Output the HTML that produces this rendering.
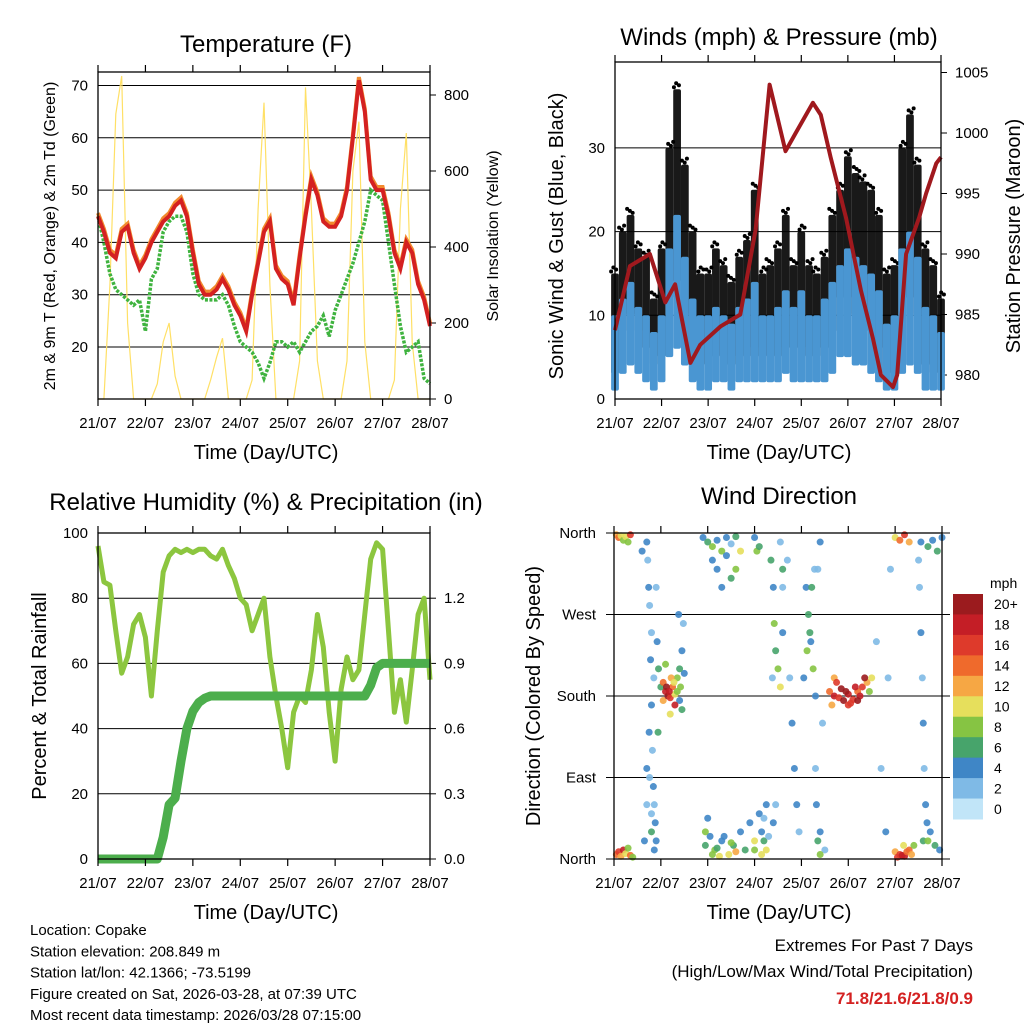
<!DOCTYPE html>
<html><head><meta charset="utf-8"><style>
html,body{margin:0;padding:0;background:#fff;}
svg{display:block;font-family:"Liberation Sans",Arial,sans-serif;}
</style></head><body>
<svg id="c" width="1024" height="1024" viewBox="0 0 1024 1024" xmlns="http://www.w3.org/2000/svg"></svg>
<script>
// ---------- DATA ----------
const dayLabels = ["21/07","22/07","23/07","24/07","25/07","26/07","27/07","28/07"];
const tempT = [45,42,38,37,42,43,38,35, 37,40,42,44,45,47,48,45, 38,32,30,30,31,33,31,28, 26,23,30,36,42,44,35,33, 32,28,37,45,52,49,44,43, 43,45,50,60,71,65,52,50, 50,45,38,35,40,38,32,29, 24];
const tempTd = [45,40,34,31,30,29,28,29, 23,33,35,42,44,45,45,42, 34,30,29,29,29,30,28,24, 21,20,19,17,14,17,21,21, 20,21,19,21,23,24,26,22, 27,30,33,36,40,44,50,49, 48,40,32,24,19,20,21,14, 13];
const solar = [0,0,300,750,850,200,0,0, 0,0,40,150,200,60,0,0, 0,0,0,50,110,160,0,0, 0,0,50,500,780,300,0,0, 0,0,100,820,500,100,0,0, 0,0,100,600,730,150,0,0, 0,0,50,500,700,150,0,0, 0];
const tempTicks = [20,30,40,50,60,70];
const solarTicks = [0,200,400,600,800];
const gustHi = [15,20,22,18,17,12, 18,30,37,28,20,15, 15,18,16,14,17,19, 25,15,16,18,22,16, 20,16,15,17,22,25, 29,27,26,25,22,15, 16,30,34,28,18,16, 12];
const gustLo = [3,8,10,8,6,4, 5,12,14,10,5,4, 4,5,5,4,5,5, 6,5,5,5,6,6, 6,5,5,6,8,12, 12,10,10,8,6,3, 3,10,12,10,4,3, 3];
const windHi = [10,12,14,11,10,8, 10,18,22,17,12,10, 10,11,10,9,11,12, 14,10,10,11,13,11, 13,10,10,12,14,16, 18,17,16,15,13,9, 10,18,20,17,11,10, 8];
const windLo = [1,3,4,3,2,1, 2,5,6,4,2,1, 1,2,2,1,2,2, 2,2,2,2,3,2, 2,2,2,2,3,5, 5,4,4,3,2,1, 1,3,4,3,1,1, 1];
const presDay = [0,0.32,0.75,1.08,1.29,1.62,1.83,2.26,2.69,3.02,3.32,3.66,3.88,4.25,4.42,4.63,4.96,5.28,5.54,5.71,5.97,6.06,6.25,6.53,6.68,6.9,7];
const presVal = [983.7,989,990,986,987.5,981,982.5,984,985,992,1004,998.5,1000,1002.5,1001.5,998,993,987,983,980,979,980,990,993,995,997.5,998];
const windTicks = [0,10,20,30];
const presTicks = [980,985,990,995,1000,1005];
const rh = [96,85,84,70,57,62,72,75, 68,50,70,88,93,95,94,95, 94,95,95,93,92,95,90,86, 80,78,70,75,80,62,50,40, 28,45,50,48,58,75,65,45, 30,52,62,55,58,75,92,97, 95,70,45,55,42,58,75,80, 55];
const precip = [0,0,0,0,0,0,0,0, 0,0,0,0.1,0.25,0.28,0.45,0.6, 0.68,0.72,0.74,0.75,0.75,0.75,0.75,0.75, 0.75,0.75,0.75,0.75,0.75,0.75,0.75,0.75, 0.75,0.75,0.75,0.75,0.75,0.75,0.75,0.75, 0.75,0.75,0.75,0.75,0.75,0.75,0.8,0.88, 0.9,0.9,0.9,0.9,0.9,0.9,0.9,0.9, 0.9];
const rhTicks = [0,20,40,60,80,100];
const prTicks = ["0.0","0.3","0.6","0.9","1.2"];
const dirDay = [0.05,0.1,0.15,0.2,0.25,0.3,0.35,0.05,0.1,0.15,0.2,0.25,0.3,0.35,0.4, 0.6,0.65,0.7,0.7,0.75,0.8,0.8,0.85,0.9, 1.0,1.05,1.1,1.15,1.2,1.25,1.3,1.35,1.4,1.45,1.1,1.2,1.3,1.5, 1.9,2.0,2.1,2.2,2.3,2.4,2.5,2.6,1.95,2.05,2.15,2.3,2.45,2.55, 3.0,3.05,3.1,3.15,3.2,3.25,3.3,3.0,3.4,3.45, 3.6,3.6,3.7,3.75,3.8,3.85,3.9,3.95,3.55, 4.1,4.15,4.2,4.25,4.3,4.35,4.4,4.45,4.4,4.5, 4.6,4.7,4.8,4.9,5.0,5.1,5.2,5.3,5.4,5.5,4.65,4.85,5.05,5.25,5.45, 5.6,5.7,5.8,5.85,5.9, 6.0,6.1,6.2,6.3,6.0,6.1,6.2,6.3,6.4, 6.55,6.7,6.8,6.9,7.0,6.6,6.75,6.85,6.95,
 0.72,0.74,0.76,0.78,0.8,0.82,0.84,0.86,0.88,0.9,0.76,0.8,0.86,0.7,0.92,0.95,0.94,
 1.05,1.12,1.18,1.22,1.28,1.35,1.4,1.45,1.48,1.38,1.42,
 1.95,2.0,2.1,2.2,2.25,2.35,2.5,2.6,2.7,2.8,2.9,3.0,3.1,3.2,3.15,3.25,
 2.1,2.2,2.3,2.4,2.5,2.6,2.7,
 3.35,3.4,3.42,3.45,3.5,3.55,3.6,3.38,
 4.05,4.12,4.18,4.22,4.28,4.3,4.32,4.35,4.4,
 4.7,4.75,4.95,5.15,5.35,5.2,5.0,
 6.05,6.15,6.25,6.35,6.18,
 6.5,6.52,6.55,6.58,6.6,6.62,6.65,6.68,6.7];
const dirDeg = [358,355,357,352,356,350,358,5,8,3,10,6,12,4,2, 340,20,60,100,140,250,30,200,300, 190,175,185,180,178,190,182,200,175,165,215,160,170,205, 355,350,345,352,340,355,348,356,15,25,10,20,5,15, 355,340,345,30,20,10,25,10,40,60, 300,250,330,200,150,100,60,30,350, 300,270,240,210,180,320,350,150,30,10, 185,180,178,175,182,176,185,190,195,200,170,188,172,180,185, 240,100,30,200,320, 355,352,358,350,8,5,3,10,15, 350,345,352,340,355,20,30,15,10,
 330,300,280,220,170,120,80,60,40,20,90,50,10,350,240,210,140,
 195,190,185,200,195,185,210,230,260,270,190,
 30,45,5,12,3,25,18,8,30,10,40,20,50,45,5,60,
 330,320,300,335,310,320,340,
 330,300,260,230,210,190,320,200,
 200,230,250,300,320,100,60,20,5,
 200,195,185,190,200,175,170,
 2,4,8,5,15,
 330,300,250,200,150,100,60,40,20];
const dirSpd = [12,14,10,9,11,8,16,14,16,12,18,10,8,15,9, 4,5,3,4,5,3,6,2,3, 6,12,18,20,16,14,10,8,4,6,8,10,18,4, 4,6,8,5,9,4,3,7,6,4,8,5,10,6, 4,8,6,4,6,10,3,8,4,3, 3,4,2,3,4,5,4,3,2, 4,6,5,8,4,3,4,3,5,3, 14,18,16,20,18,16,14,17,12,10,12,20,16,18,8, 2,3,4,3,2, 10,14,16,12,12,16,18,14,8, 5,6,4,6,5,6,4,7,5,
 3,4,2,4,5,3,4,2,5,4,2,3,5,4,4,6,7,
 14,20,19,12,10,8,6,4,3,4,9,
 8,4,8,6,10,4,8,12,4,6,4,10,4,3,10,4,
 4,5,4,4,6,8,10,
 6,4,8,7,8,10,6,3,
 4,8,7,6,3,3,4,6,8,
 12,16,20,18,20,20,16,
 16,18,14,12,10,
 3,2,4,3,4,2,4,5,8];
const cbLabels = ["20+","18","16","14","12","10","8","6","4","2","0"];
const cbColors = ["#9b1b1e","#c41e26","#de3a2b","#ef6a2c","#f6a744","#e6df5c","#86c443","#47a46b","#3f86c6","#7fbae6","#c1e5f8"];

// ---------- HELPERS ----------
const svg = document.getElementById('c');
const NS = "http://www.w3.org/2000/svg";
function mk(tag, attrs, parent){
  const e = document.createElementNS(NS, tag);
  for (const k in attrs) e.setAttribute(k, attrs[k]);
  (parent||svg).appendChild(e);
  return e;
}
function txt(s, x, y, size, anchor, parent, extra){
  const t = mk('text', Object.assign({x:x, y:y, 'font-size':size, 'text-anchor':anchor||'middle', fill:'#000'}, extra||{}), parent);
  t.textContent = s;
  return t;
}
function frame(L,T,R,B,g){
  const r = mk('rect',{x:L,y:T,width:R-L,height:B-T,fill:'none',stroke:'#000','stroke-width':1.3},g);
  
  
}
function xAxis(L,R,T,B,g){
  const sx = d => L + d*(R-L)/7;
  dayLabels.forEach((lab,i)=>{
    const x = sx(i);
    mk('line',{x1:x,y1:B,x2:x,y2:B+7,stroke:'#000','stroke-width':1.2},g);
    mk('line',{x1:x,y1:T,x2:x,y2:T-7,stroke:'#000','stroke-width':1.2},g);
    const t = txt(lab, x, B+29, 15, 'middle', g);
    
    
  });
  return sx;
}

// ============ PANEL 1: TEMPERATURE ============
(function(){
  const g = mk('g',{});
  
  
  const L=98,T=72,R=430,B=399;
  const yT = v => 347 - (v-20)*5.23;
  const yS = v => 399 - v*0.38;
  const sx = d => L + d*(R-L)/7;
  const tt = txt('Temperature (F)', 266, 52, 24, 'middle', g);
   
  tempTicks.forEach(v=>{
    mk('line',{x1:L,y1:yT(v),x2:R,y2:yT(v),stroke:'#000','stroke-width':1},g);
    const t = txt(String(v), L-10, yT(v)+5, 15, 'end', g);
     
  });
  solarTicks.forEach(v=>{
    mk('line',{x1:R,y1:yS(v),x2:R+6,y2:yS(v),stroke:'#000'},g);
    const t = txt(String(v), R+14, yS(v)+5, 15, 'start', g);
     
  });
  const pt = (arr,f) => arr.map((v,i)=> sx(i*7/(arr.length-1)).toFixed(1)+','+f(v).toFixed(1)).join(' ');
  const ps = mk('polyline',{points:pt(solar,yS),fill:'none',stroke:'#ffe066','stroke-width':1.2},g);
   
  const pd = mk('polyline',{points:pt(tempTd,yT),fill:'none',stroke:'#3fb33f','stroke-width':3.5,'stroke-dasharray':'3 1.5'},g);
   
  const po = mk('polyline',{points:pt(tempT,v=>yT(v+0.6)),fill:'none',stroke:'#f28a2e','stroke-width':4},g);
   
  const pr = mk('polyline',{points:pt(tempT,yT),fill:'none',stroke:'#d42121','stroke-width':4},g);
   
  frame(L,T,R,B,g);
  xAxis(L,R,T,B,g);
  const xl = txt('Time (Day/UTC)', 266, 459, 20, 'middle', g);
   
  const yl = txt('2m & 9m T (Red, Orange) & 2m Td (Green)', 0, 0, 16, 'middle', g, {transform:'translate(55,236) rotate(-90)'});
   
  const yr = txt('Solar Insolation (Yellow)', 0, 0, 16, 'middle', g, {transform:'translate(498,236) rotate(-90)'});
   
})();

// ============ PANEL 2: WINDS ============
(function(){
  const g = mk('g',{});
  
  
  const L=615,T=62,R=941,B=399;
  const yW = v => 399 - v*8.37;
  const yP = v => 375 - (v-980)*12.1;
  const sx = d => L + d*(R-L)/7;
  const tt = txt('Winds (mph) & Pressure (mb)', 779, 45, 24, 'middle', g);
   
  windTicks.forEach(v=>{
    mk('line',{x1:L,y1:yW(v),x2:R,y2:yW(v),stroke:'#000','stroke-width':1},g);
    const t = txt(String(v), L-10, yW(v)+5, 15, 'end', g);
     
  });
  presTicks.forEach(v=>{
    mk('line',{x1:R,y1:yP(v),x2:R+6,y2:yP(v),stroke:'#000'},g);
    const t = txt(String(v), R+14, yP(v)+5, 15, 'start', g);
     
  });
  const step = 7/(gustHi.length-1);
  const w = (R-L)/7*step;
  gustHi.forEach((v,i)=>{
    const x = sx(i*step);
    const r = mk('rect',{x:x-w/2,y:yW(v),width:w,height:yW(gustLo[i])-yW(v),fill:'#000',opacity:0.9,rx:2},g);
     
    for(let k=0;k<3;k++){
      const c = mk('circle',{cx:x-w/2+((k*5+i*3)%w),cy:yW(v)-2-k*2,r:2,fill:'#000'},g);
       
    }
  });
  windHi.forEach((v,i)=>{
    const x = sx(i*step);
    const r = mk('rect',{x:x-w/2,y:yW(v),width:w,height:yW(windLo[i])-yW(v),fill:'#4a96d2',rx:2},g);
     
  });
  const pp = mk('polyline',{points:presDay.map((d,i)=>sx(d).toFixed(1)+','+yP(presVal[i]).toFixed(1)).join(' '),fill:'none',stroke:'#a0191e','stroke-width':4,'stroke-linejoin':'round'},g);
   
  frame(L,T,R,B,g);
  xAxis(L,R,T,B,g);
  const xl = txt('Time (Day/UTC)', 779, 459, 20, 'middle', g);
   
  const yl = txt('Sonic Wind & Gust (Blue, Black)', 0, 0, 20, 'middle', g, {transform:'translate(563,236) rotate(-90)'});
   
  const yr = txt('Station Pressure (Maroon)', 0, 0, 20, 'middle', g, {transform:'translate(1020,236) rotate(-90)'});
   
})();

// ============ PANEL 3: RH & PRECIP ============
(function(){
  const g = mk('g',{});
  
  
  const L=98,T=533,R=430,B=859;
  const yR = v => 859 - v*3.26;
  const yPr = v => 859 - v*(326/1.5);
  const sx = d => L + d*(R-L)/7;
  const tt = txt('Relative Humidity (%) & Precipitation (in)', 266, 510, 24, 'middle', g);
   
  rhTicks.forEach(v=>{
    if(v>0 && v<100) mk('line',{x1:L,y1:yR(v),x2:R,y2:yR(v),stroke:'#000','stroke-width':1},g);
    const t = txt(String(v), L-10, yR(v)+5, 15, 'end', g);
     
  });
  prTicks.forEach(s=>{
    const v = parseFloat(s);
    mk('line',{x1:R,y1:yPr(v),x2:R+6,y2:yPr(v),stroke:'#000'},g);
    const t = txt(s, R+14, yPr(v)+5, 15, 'start', g);
     
  });
  const pt = (arr,f) => arr.map((v,i)=> sx(i*7/(arr.length-1)).toFixed(1)+','+f(v).toFixed(1)).join(' ');
  const pr = mk('polyline',{points:pt(rh,yR),fill:'none',stroke:'#8cc63f','stroke-width':5,'stroke-linejoin':'round'},g);
   
  const pp = mk('polyline',{points:pt(precip,yPr),fill:'none',stroke:'#4cae4c','stroke-width':9,'stroke-linejoin':'round'},g);
   
  frame(L,T,R,B,g);
  xAxis(L,R,T,B,g);
  const xl = txt('Time (Day/UTC)', 266, 919, 20, 'middle', g);
   
  const yl = txt('Percent & Total Rainfall', 0, 0, 20, 'middle', g, {transform:'translate(46,696) rotate(-90)'});
   
})();

// ============ PANEL 4: WIND DIRECTION ============
(function(){
  const g = mk('g',{});
  
  
  const L=614,T=533,R=942,B=859;
  const yD = v => 859 - v*(326/360);
  const sx = d => L + d*(R-L)/7;
  const tt = txt('Wind Direction', 779, 504, 24, 'middle', g);
   
  [["North",360],["West",270],["South",180],["East",90],["North",0]].forEach(([s,v])=>{
    mk('line',{x1:L-8,y1:yD(v),x2:R+8,y2:yD(v),stroke:'#000','stroke-width':1},g);
    const t = txt(s, L-18, yD(v)+5, 15, 'end', g);
     
  });
  dirDay.forEach((d,i)=>{
    const ci = Math.min(10, Math.floor(dirSpd[i]/2));
    const c = mk('circle',{cx:sx(d),cy:yD(dirDeg[i]),r:3.5,fill:cbColors[10-ci],opacity:0.9},g);
     
  });
  frame(L,T,R,B,g);
  xAxis(L,R,T,B,g);
  const xl = txt('Time (Day/UTC)', 779, 919, 20, 'middle', g);
   
  const yl = txt('Direction (Colored By Speed)', 0, 0, 20, 'middle', g, {transform:'translate(540,696) rotate(-90)'});
   
  const cb = mk('g',{},g);
   
  const u = txt('mph', 990, 588, 14, 'start', cb);
   
  const h = 225/cbColors.length;
  cbColors.forEach((col,i)=>{
    const r = mk('rect',{x:953,y:594+i*h,width:30,height:h+0.5,fill:col},cb);
     
    const t = txt(cbLabels[i], 994, 594+i*h+h/2+5, 14, 'start', cb);
     
  });
})();

// ============ FOOTER TEXT ============
(function(){
  const g = mk('g',{});
  
  
  ["Location: Copake","Station elevation: 208.849 m","Station lat/lon: 42.1366; -73.5199","Figure created on Sat, 2026-03-28, at 07:39 UTC","Most recent data timestamp: 2026/03/28 07:15:00"].forEach((s,i)=>{
    const t = txt(s, 30, 935+i*21.3, 15, 'start', g);
     
  });
  const g2 = mk('g',{});
  
  
  const a = txt('Extremes For Past 7 Days', 973, 951, 17, 'end', g2);
   
  const b = txt('(High/Low/Max Wind/Total Precipitation)', 973, 977, 17, 'end', g2);
   
  const c = txt('71.8/21.6/21.8/0.9', 973, 1004, 17, 'end', g2, {fill:'#d42121','font-weight':'bold'});
   
})();
</script>
</body></html>
